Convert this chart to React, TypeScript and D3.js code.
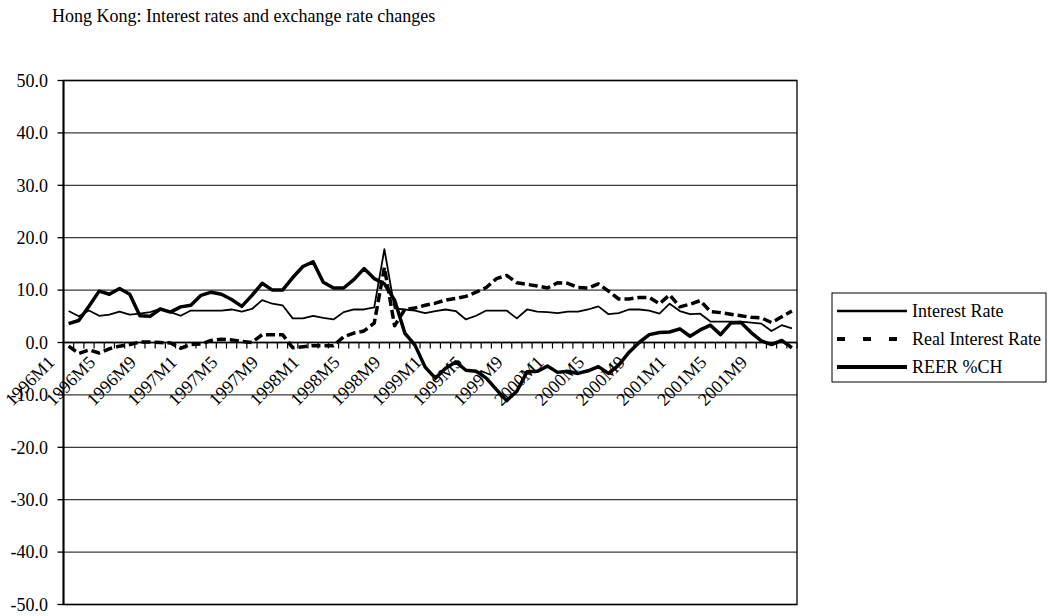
import React from "react";
import * as d3 from "d3";

const years = [1996, 1997, 1998, 1999, 2000, 2001];
const months = [1, 2, 3, 4, 5, 6, 7, 8, 9, 10, 11, 12];
const categories = years.flatMap((yr) => months.map((m) => `${yr}M${m}`));

const interestRate = [
  6.0, 5.0, 6.1, 5.1, 5.3, 5.9, 5.3, 5.5, 5.8, 6.4, 5.8, 5.1,
  6.1, 6.1, 6.1, 6.1, 6.3, 5.9, 6.4, 8.1, 7.4, 7.1, 4.6, 4.6,
  5.1, 4.7, 4.4, 5.8, 6.3, 6.3, 6.7, 17.8, 6.5, 6.3, 6.1, 5.6,
  6.0, 6.3, 6.0, 4.4, 5.1, 6.1, 6.1, 6.1, 4.6, 6.3, 5.9, 5.8,
  5.6, 5.9, 5.9, 6.3, 6.9, 5.4, 5.6, 6.3, 6.3, 6.1, 5.5, 7.4,
  6.0, 5.4, 5.5, 4.0, 4.0, 4.0, 4.0, 3.8, 3.6, 2.2, 3.3, 2.7,
];

const realInterestRate = [
  -0.7, -2.1, -1.4, -2.0, -1.2, -0.7, -0.4, 0.1, 0.1, 0.0, -0.1, -1.1,
  -0.4, -0.3, 0.4, 0.6, 0.5, 0.2, 0.0, 1.5, 1.5, 1.5, -1.0, -0.8,
  -0.6, -0.6, -0.6, 1.1, 1.8, 2.2, 3.7, 14.3, 3.2, 6.3, 6.6, 7.1,
  7.5, 8.1, 8.4, 8.8, 9.6, 10.5, 12.2, 12.8, 11.4, 11.1, 10.8, 10.4,
  11.4, 11.3, 10.5, 10.4, 11.2, 9.8, 8.3, 8.3, 8.6, 8.6, 7.4, 9.1,
  6.8, 7.3, 8.0, 5.9, 5.7, 5.4, 5.1, 4.8, 4.7, 3.8, 4.9, 6.0,
];

const reerPctCh = [
  3.6, 4.2, 6.9, 9.8, 9.2, 10.3, 9.2, 5.1, 5.0, 6.4, 5.8, 6.8,
  7.1, 9.0, 9.6, 9.2, 8.2, 6.9, 9.0, 11.3, 10.0, 10.0, 12.4, 14.5,
  15.4, 11.5, 10.4, 10.4, 12.0, 14.1, 12.2, 11.2, 8.1, 1.8, -0.5, -4.7,
  -6.8, -4.9, -3.7, -5.3, -5.5, -6.8, -9.0, -11.1, -9.3, -5.6, -5.5, -4.5,
  -5.7, -5.5, -5.9, -5.4, -4.6, -5.9, -4.3, -1.9, 0.0, 1.5, 1.9, 2.0,
  2.6, 1.2, 2.4, 3.3, 1.5, 3.7, 3.8, 1.9, 0.3, -0.4, 0.4, -1.0,
];

const yTicks = [50, 40, 30, 20, 10, 0, -10, -20, -30, -40, -50];
const labelEvery = 4;
const title = "Hong Kong: Interest rates and exchange rate changes";

const series = [
  { name: "Interest Rate", values: interestRate, width: 1.8, dash: null, legendDash: null },
  { name: "Real Interest Rate", values: realInterestRate, width: 3.5, dash: "9,4", legendDash: "8,18" },
  { name: "REER %CH", values: reerPctCh, width: 3.5, dash: null, legendDash: null },
];

const W = 1048;
const H = 616;
const FONT = "'Liberation Serif', 'Times New Roman', serif";
const plot = { left: 63.5, right: 797, top: 80.5, bottom: 604.5 };

export default function App() {
  const x = d3.scaleBand<string>().domain(categories).range([plot.left, plot.right]);
  const bw = x.bandwidth();
  const cx = (i: number) => (x(categories[i]) as number) + bw / 2;
  const y = d3.scaleLinear().domain([-50, 50]).range([plot.bottom, plot.top]);
  const y0 = y(0);

  const line = d3
    .line<number>()
    .x((_, i) => cx(i))
    .y((d) => y(d));

  const legend = { left: 832, top: 293, right: 1046, bottom: 382 };
  const rowY = [311, 339, 367];

  return (
    <svg
      width={W}
      height={H}
      style={{ position: "absolute", left: 0, top: 0, background: "#fff" }}
      fontFamily={FONT}
    >
      <rect x={0} y={0} width={W} height={H} fill="#fff" />
      <text x={52} y={22} fontSize={18} fill="#000">
        {title}
      </text>

      {/* gridlines */}
      {yTicks.map((t) => (
        <line key={`g${t}`} x1={plot.left} x2={plot.right} y1={y(t)} y2={y(t)} stroke="#3a3a3a" strokeWidth={1.3} />
      ))}
      {/* plot border */}
      <rect
        x={plot.left}
        y={plot.top}
        width={plot.right - plot.left}
        height={plot.bottom - plot.top}
        fill="none"
        stroke="#000"
        strokeWidth={1.3}
      />
      {/* y axis */}
      <line x1={plot.left} x2={plot.left} y1={plot.top} y2={plot.bottom} stroke="#000" strokeWidth={2} />
      {yTicks.map((t) => (
        <g key={`yt${t}`}>
          <line x1={plot.left - 6} x2={plot.left} y1={y(t)} y2={y(t)} stroke="#000" strokeWidth={1.3} />
          <text x={48} y={y(t)} dy="0.35em" textAnchor="end" fontSize={18} fill="#000">
            {t.toFixed(1)}
          </text>
        </g>
      ))}

      {/* x axis at zero */}
      <line x1={plot.left} x2={plot.right} y1={y0} y2={y0} stroke="#000" strokeWidth={1.5} />
      {d3.range(categories.length + 1).map((i) => {
        const xx = plot.left + i * bw;
        return <line key={`xt${i}`} x1={xx} x2={xx} y1={y0} y2={y0 + 6} stroke="#000" strokeWidth={1.2} />;
      })}
      {categories.map((c, i) =>
        i % labelEvery === 0 ? (
          <g key={`xl${c}`} transform={`translate(${cx(i) - 13},${y0 + 21})`}>
            <g transform="rotate(-45)">
              <text x={0} y={0} textAnchor="end" fontSize={18} fill="#000">
                {c}
              </text>
            </g>
          </g>
        ) : null
      )}

      {/* series */}
      {series.map((s) => (
        <path
          key={s.name}
          d={line(s.values) || ""}
          fill="none"
          stroke="#000"
          strokeWidth={s.width}
          strokeDasharray={s.dash || undefined}
          strokeLinejoin="round"
        />
      ))}

      {/* legend */}
      <rect
        x={legend.left}
        y={legend.top}
        width={legend.right - legend.left}
        height={legend.bottom - legend.top}
        fill="#fff"
        stroke="#000"
        strokeWidth={1}
      />
      {series.map((s, k) => (
        <g key={`lg${s.name}`}>
          <line
            x1={837}
            x2={907}
            y1={rowY[k]}
            y2={rowY[k]}
            stroke="#000"
            strokeWidth={s.width + (k === 0 ? 0.6 : 0.5)}
            strokeDasharray={s.legendDash || undefined}
          />
          <text x={912} y={rowY[k]} dy="0.35em" fontSize={18} fill="#000">
            {s.name}
          </text>
        </g>
      ))}
    </svg>
  );
}
